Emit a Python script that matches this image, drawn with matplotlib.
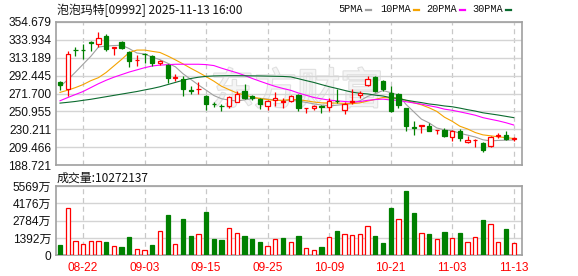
import matplotlib
matplotlib.use("Agg")
import matplotlib.pyplot as plt
import matplotlib.patheffects as pe
from matplotlib.lines import Line2D
import numpy as np

# trading days 2025-08-19 .. 2025-11-13
dates = ['08-19', '08-20', '08-21', '08-22', '08-25', '08-26', '08-27', '08-28', '08-29', '09-01',
         '09-02', '09-03', '09-04', '09-05', '09-08', '09-09', '09-10', '09-11', '09-12', '09-15',
         '09-16', '09-17', '09-18', '09-19', '09-22', '09-23', '09-24', '09-25', '09-26', '09-29',
         '09-30', '10-02', '10-03', '10-06', '10-08', '10-09', '10-10', '10-13', '10-14', '10-15',
         '10-16', '10-17', '10-20', '10-21', '10-22', '10-23', '10-24', '10-27', '10-28', '10-30',
         '10-31', '11-03', '11-04', '11-05', '11-06', '11-07', '11-10', '11-11', '11-12', '11-13']

opens = [285.5, 277.1, 322.3, 322.3, 331.5, 328.6, 338.6, 324.5, 330.9, 319.4,
         310.3, 317.3, 315.0, 306.8, 304.5, 290.0, 289.0, 275.2, 276.7, 269.0,
         259.6, 257.7, 256.7, 262.0, 274.8, 268.5, 265.2, 256.8, 264.5, 262.3,
         263.3, 269.4, 254.6, 255.0, 257.0, 256.0, 263.6, 253.0, 262.3, 269.4,
         281.0, 290.2, 285.6, 272.0, 271.0, 254.8, 232.8, 234.6, 234.5, 229.3,
         229.9, 221.0, 228.7, 215.6, 218.1, 214.5, 210.6, 223.0, 224.1, 219.5]
highs = [286.5, 320.9, 325.9, 328.6, 332.4, 342.4, 340.5, 325.5, 332.4, 320.9,
         316.3, 318.5, 316.3, 310.5, 306.0, 293.7, 291.7, 280.8, 285.0, 270.0,
         261.7, 259.8, 269.0, 274.5, 282.5, 269.5, 266.0, 264.4, 273.3, 266.0,
         269.4, 271.0, 255.2, 258.7, 258.0, 266.4, 276.5, 261.7, 277.0, 274.8,
         292.0, 292.5, 287.5, 279.8, 272.0, 255.5, 239.5, 235.6, 237.5, 229.8,
         231.8, 229.9, 230.6, 222.9, 218.6, 215.2, 222.5, 225.5, 227.9, 221.5]
lows = [276.0, 268.3, 315.5, 311.7, 321.0, 325.9, 320.9, 316.3, 322.8, 302.8,
        304.0, 307.0, 304.0, 304.8, 283.6, 285.6, 269.2, 271.0, 271.0, 252.9,
        256.0, 251.8, 254.8, 261.7, 265.0, 264.0, 254.0, 252.9, 257.0, 255.0,
        261.7, 252.0, 249.0, 253.0, 249.0, 251.0, 261.0, 248.0, 259.5, 266.4,
        280.0, 274.0, 274.8, 250.5, 254.8, 228.0, 223.3, 226.0, 228.0, 225.0,
        221.4, 216.4, 216.4, 214.5, 209.9, 203.7, 209.9, 220.0, 218.3, 216.5]
closes = [282.0, 317.1, 322.0, 322.0, 329.5, 336.3, 322.8, 325.0, 324.0, 309.8,
          310.7, 316.9, 307.0, 309.4, 289.5, 290.4, 276.4, 274.8, 277.1, 259.4,
          259.2, 257.3, 267.5, 271.5, 266.4, 266.0, 259.6, 262.5, 266.3, 262.7,
          268.3, 254.8, 255.0, 257.5, 256.6, 263.3, 263.0, 259.4, 262.7, 272.1,
          288.6, 274.8, 277.1, 251.0, 258.7, 233.7, 232.3, 235.0, 228.7, 229.6,
          222.2, 227.9, 220.2, 218.3, 218.4, 206.0, 221.4, 223.4, 219.5, 220.0]

ma5 = [279.8, 287.5, 296.3, 305.5, 314.6, 325.4, 326.5, 327.1, 327.5, 323.6,
       318.5, 317.3, 313.7, 310.8, 306.7, 302.6, 294.5, 288.1, 281.6, 275.6,
       269.4, 265.6, 264.1, 263.0, 264.4, 265.7, 266.2, 265.2, 264.2, 263.4,
       263.9, 262.9, 261.4, 259.7, 258.4, 257.4, 258.2, 259.1, 260.2, 263.3,
       268.3, 271.5, 275.1, 272.7, 270.0, 259.1, 250.6, 242.1, 237.7, 231.9,
       229.6, 228.7, 225.7, 223.6, 221.4, 218.2, 216.9, 217.5, 217.7, 218.1]
ma10 = [273.0, 275.5, 278.5, 282.0, 286.5, 290.0, 296.0, 303.5, 311.0, 319.1,
        321.9, 321.9, 320.4, 319.1, 315.1, 310.6, 305.9, 300.9, 296.2, 291.2,
        286.0, 280.1, 276.1, 272.3, 270.0, 267.6, 265.9, 264.7, 263.6, 263.9,
        264.8, 264.6, 263.3, 261.9, 260.9, 260.7, 260.6, 260.3, 259.9, 260.9,
        262.9, 264.9, 267.1, 266.4, 266.7, 263.7, 261.0, 258.6, 255.2, 251.0,
        244.3, 239.6, 233.9, 230.7, 226.6, 223.9, 222.8, 221.6, 220.7, 219.7]
ma20 = [263.3, 267.0, 270.5, 274.0, 278.5, 283.0, 287.0, 290.5, 293.5, 296.5,
        299.0, 301.5, 303.5, 304.5, 305.0, 305.5, 305.5, 305.5, 305.5, 305.1,
        304.0, 301.0, 298.3, 295.7, 292.6, 289.1, 285.9, 282.8, 279.9, 277.5,
        275.4, 272.3, 269.7, 267.1, 265.5, 264.1, 263.2, 262.5, 261.7, 262.4,
        263.8, 264.7, 265.2, 264.2, 263.8, 262.2, 260.8, 259.4, 257.6, 255.9,
        253.6, 252.3, 250.5, 248.6, 246.6, 243.8, 241.9, 240.1, 237.9, 235.3]
ma30 = [260.6, 261.5, 262.5, 263.8, 265.0, 266.5, 268.0, 269.5, 271.0, 272.5,
        274.0, 275.8, 277.5, 279.5, 282.0, 284.5, 287.0, 289.0, 290.5, 291.5,
        292.0, 292.2, 292.3, 292.3, 292.2, 292.1, 292.0, 291.8, 291.6, 291.4,
        290.9, 288.8, 286.6, 284.5, 282.0, 279.6, 277.5, 275.3, 273.2, 272.0,
        271.2, 269.8, 268.8, 266.9, 265.9, 264.0, 262.5, 261.2, 259.6, 258.6,
        257.3, 256.4, 254.8, 253.0, 251.4, 249.4, 248.1, 246.8, 245.3, 243.8]

# volume in 万 shares, vol_up = red (close above previous close)
volumes = [804, 3830, 1178, 884, 1125, 1125, 1045, 777, 643, 1446,
           536, 455, 804, 1983, 3216, 938, 2894, 1527, 1742, 3457,
           1286, 1206, 2224, 1822, 1527, 1286, 1045, 777, 1340, 1367,
           1099, 1527, 616, 455, 643, 1500, 1930, 1688, 1608, 1688,
           2331, 1527, 965, 3779, 2948, 5146, 3377, 1822, 1688, 1340,
           1849, 1420, 1769, 1099, 1500, 2814, 2492, 1099, 2090, 1027]
vol_up = [0, 1, 1, 1, 1, 1, 0, 1, 0, 0,
          1, 1, 0, 1, 0, 1, 0, 0, 1, 0,
          0, 0, 1, 1, 0, 0, 0, 1, 1, 0,
          1, 0, 1, 1, 0, 1, 0, 1, 1, 1,
          1, 0, 0, 0, 1, 0, 0, 1, 0, 1,
          0, 1, 0, 1, 1, 0, 1, 1, 0, 1]
last_volume = 10272137

price_ticks = [188.721, 209.466, 230.211, 250.955, 271.700, 292.445, 313.189, 333.934, 354.679]
vol_ticks = [0, 1392, 2784, 4176, 5569]
vol_tick_labels = ['0', '1392万', '2784万', '4176万', '5569万']
label_dates = ['08-22', '09-03', '09-15', '09-25', '10-09', '10-21', '11-03', '11-13']

ma_names = ['5PMA', '10PMA', '20PMA', '30PMA']
ma_colors = ['#a0a0a0', '#f5a300', '#ff00ff', '#0b6b2f']

RED = '#ff0000'
GREEN = '#008000'
FRAME = '#a0a0a0'
GRID = '#d4d4d4'
NUM_FONT = ['Liberation Sans', 'Noto Sans CJK SC']
CJK_FONT = ['Noto Sans CJK SC', 'DejaVu Sans']

W, H = 578, 276
fig = plt.figure(figsize=(W / 100, H / 100), dpi=100)
ax = fig.add_axes([56 / W, 1 - 165.3 / H, 466 / W, (165.3 - 21.7) / H])
axv = fig.add_axes([56 / W, 1 - 255.3 / H, 466 / W, (255.3 - 186) / H])

x = np.arange(len(dates))
o = np.array(opens)
c = np.array(closes)
up = c > o
col = np.where(up, RED, GREEN)
grid_x = [dates.index(d) for d in label_dates]

for a in (ax, axv):
    a.set_xlim(-0.52, 60.08)
    for s in a.spines.values():
        s.set_color(FRAME)
        s.set_linewidth(1.2)
    for gx in grid_x:
        a.axvline(gx, color='#c8c8c8', lw=0.9, ls=(0, (4, 3)), zorder=1)
    a.tick_params(length=0, labelsize=8.6, labelcolor='#111111')

# price panel
ax.set_ylim(price_ticks[0], price_ticks[-1])
ax.set_yticks(price_ticks)
ax.set_yticklabels([f'{t:.3f}' for t in price_ticks], family=NUM_FONT)
ax.yaxis.grid(True, color=GRID, lw=1, zorder=0)
ax.set_xticks([])

ax.text(0.517, 0.51, '东方财富', transform=ax.transAxes, ha='center', va='center',
        fontsize=31, family=CJK_FONT, color='#f5f5f5', style='italic', zorder=1.5,
        path_effects=[pe.withStroke(linewidth=1.6, foreground='#e0e0e0')])

for ma, mc in zip([ma5, ma10, ma20, ma30], ma_colors):
    ax.plot(x, ma, color=mc, lw=0.8, zorder=2)

ax.vlines(x, lows, highs, colors=col, lw=0.9, zorder=3)
ax.bar(x, np.maximum(np.abs(c - o), 0.15), bottom=np.minimum(o, c), width=0.56,
       color=np.where(up, 'white', GREEN), edgecolor=col, lw=0.9, zorder=4)

# volume panel
vup = np.array(vol_up, dtype=bool)
axv.set_ylim(0, vol_ticks[-1])
axv.set_yticks(vol_ticks)
axv.set_yticklabels(vol_tick_labels, family=NUM_FONT)
axv.yaxis.grid(True, color=GRID, lw=1, zorder=0)
axv.bar(x, volumes, width=0.56, color=np.where(vup, 'white', GREEN),
        edgecolor=np.where(vup, RED, GREEN), lw=0.9, zorder=3)
axv.set_xticks(grid_x)
axv.set_xticklabels(label_dates, family=NUM_FONT, color=RED)
axv.tick_params(axis='x', pad=5, labelcolor=RED)

# header texts
fig.text(57 / W, 1 - 10 / H, '泡泡玛特[09992] 2025-11-13 16:00', ha='left', va='center',
         fontsize=8.6, family=CJK_FONT, color='#111111')
fig.text(57 / W, 1 - 178 / H, f'成交量:{last_volume}', ha='left', va='center',
         fontsize=8.6, family=CJK_FONT, color='#111111')

leg_x = [338, 380, 426, 472]
for lx, name, mc in zip(leg_x, ma_names, ma_colors):
    fig.text(lx / W, 1 - 9.5 / H, name, ha='left', va='center', fontsize=7.4,
             family=['Liberation Mono', 'DejaVu Sans Mono'], color='#111111')
    tail = lx + 6 * len(name) + 4
    fig.add_artist(Line2D([tail / W, (tail + 5) / W], [1 - 9.5 / H, 1 - 9.5 / H],
                          color=mc, lw=1.6, transform=fig.transFigure))

fig.savefig('out.png', dpi=100)
